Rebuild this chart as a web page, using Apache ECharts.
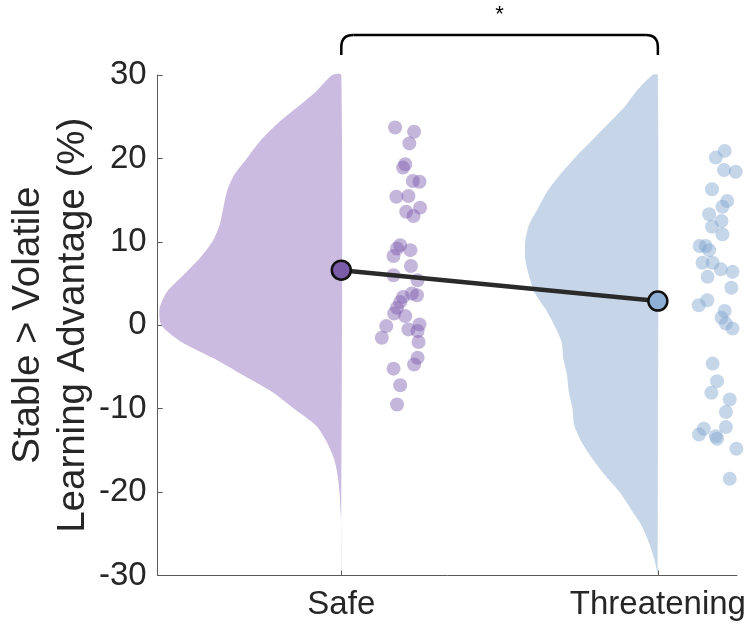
<!DOCTYPE html>
<html><head><meta charset="utf-8">
<script src="https://cdn.jsdelivr.net/npm/echarts@6/dist/echarts.min.js"></script>
<style>html,body{margin:0;padding:0;background:#fff}#c{width:754px;height:626px}</style>
</head><body><div id="c"></div>
<script>
// ---------- data ----------
const categories = ['Safe', 'Threatening'];
const categoryX = [1, 2];
const meanValues = [6.6, 2.9];

const safeX = [1.170,1.230,1.215,1.202,1.195,1.226,1.247,1.174,1.212,1.249,1.205,1.228,1.186,1.176,1.218,1.165,1.220,1.165,1.241,1.223,1.239,1.195,1.186,1.176,1.167,1.202,1.142,1.247,1.212,1.241,1.128,1.244,1.241,1.230,1.165,1.186,1.176];
const safeY = [23.7,23.2,21.8,19.3,18.9,17.3,17.2,15.4,15.5,14.1,13.6,13.1,9.6,9.2,9.0,8.3,7.1,6.0,5.4,3.8,3.6,3.4,2.8,2.1,1.4,1.1,-0.1,0.1,-0.5,-0.7,-1.5,-2.0,-3.9,-4.7,-5.2,-7.2,-9.5];

const threatX = [2.211,2.183,2.209,2.246,2.171,2.219,2.204,2.162,2.201,2.171,2.204,2.132,2.151,2.162,2.141,2.173,2.199,2.236,2.157,2.232,2.156,2.129,2.211,2.201,2.215,2.236,2.173,2.187,2.169,2.227,2.215,2.215,2.145,2.130,2.183,2.187,2.248,2.227];
const threatY = [20.9,20.1,18.6,18.4,16.3,14.9,14.2,13.3,12.5,11.8,10.9,9.5,9.5,9.0,7.5,7.5,6.7,6.4,5.8,4.5,3.0,2.4,1.7,0.9,0.2,-0.4,-4.6,-6.7,-8.1,-8.9,-10.4,-12.2,-12.4,-13.1,-13.3,-13.6,-14.8,-18.4];

const violinY = [30,28,26,24,22,20,18,16,14,12,10,8,6,4,2,0,-2,-4,-6,-8,-10,-12,-14,-16,-18,-20,-22,-24,-26,-28,-30];
const safeDensity = [0.05,0.14,0.25,0.36,0.45,0.52,0.59,0.63,0.65,0.67,0.71,0.78,0.87,0.96,1.00,0.99,0.88,0.70,0.54,0.38,0.26,0.14,0.08,0.04,0.02,0.01,0.005,0,0,0,0];
const threatDensity = [0.03,0.12,0.19,0.28,0.37,0.46,0.54,0.61,0.66,0.71,0.73,0.73,0.71,0.68,0.62,0.57,0.53,0.52,0.50,0.49,0.47,0.46,0.42,0.36,0.29,0.21,0.15,0.09,0.05,0.02,0];

const sigLabel = '*';
const yAxisTitle = 'Stable > Volatile\nLearning Advantage (%)';

// ---------- style ----------
const FONT = "'Liberation Sans', Arial, Helvetica, sans-serif";
const TEXT = '#262626';
const AXIS = '#5a5a5a';
const VIOLIN_HALF = 0.574;
const violinColors = ['#cbbbe0', '#c6d6e8'];
const dotColors = ['#7d5cae', '#7fa3cf'];
const meanColors = ['#7b5ca8', '#8fb0d6'];
const densities = [safeDensity, threatDensity];

const chart = echarts.init(document.getElementById('c'), null, {renderer: 'canvas'});

function violinItem(params, api) {
  const idx = api.value(0);
  const dens = densities[idx];
  const cx = categoryX[idx];
  const pts = [api.coord([cx, violinY[0]])];
  for (let i = 0; i < violinY.length; i++) {
    pts.push(api.coord([cx - dens[i] * VIOLIN_HALF, violinY[i]]));
  }
  pts.push(api.coord([cx, violinY[violinY.length - 1]]));
  return {type: 'polygon', shape: {points: pts, smooth: 0.25}, style: {fill: violinColors[idx]}};
}

chart.setOption({
  animation: false,
  backgroundColor: '#fff',
  grid: {left: 157.7, right: 17, top: 75, bottom: 50.5, containLabel: false, outerBoundsMode: 'none'},
  xAxis: {
    type: 'value', min: 0.42, max: 2.25,
    axisLine: {show: true, onZero: false, lineStyle: {color: AXIS, width: 1}},
    axisTick: {show: true, inside: true, length: 5, customValues: categoryX, lineStyle: {color: AXIS}},
    axisLabel: {customValues: categoryX, formatter: v => categories[categoryX.indexOf(v)] || '',
      fontSize: 33, color: TEXT, fontFamily: FONT, margin: 13},
    splitLine: {show: false}
  },
  yAxis: {
    type: 'value', min: -30, max: 30, interval: 10,
    axisLine: {show: true, onZero: false, lineStyle: {color: AXIS, width: 1}},
    axisTick: {show: true, inside: true, length: 5, lineStyle: {color: AXIS}},
    axisLabel: {fontSize: 33, color: TEXT, fontFamily: FONT, margin: 11},
    splitLine: {show: false},
    name: yAxisTitle, nameLocation: 'middle', nameRotate: 90, nameGap: 62, nameMoveOverlap: false,
    nameTextStyle: {fontSize: 38.5, color: TEXT, fontFamily: FONT, lineHeight: 45}
  },
  series: [
    {type: 'custom', renderItem: violinItem, data: [[0]], encode: {x: -1, y: -1}, z: 1, silent: true},
    {type: 'custom', renderItem: violinItem, data: [[1]], encode: {x: -1, y: -1}, z: 1, silent: true},
    {type: 'scatter', data: safeX.map((x, i) => [x, safeY[i]]), symbolSize: 14,
      itemStyle: {color: dotColors[0], opacity: 0.45}, z: 2},
    {type: 'scatter', data: threatX.map((x, i) => [x, threatY[i]]), symbolSize: 14,
      itemStyle: {color: dotColors[1], opacity: 0.45}, z: 2},
    {type: 'line', data: categoryX.map((x, i) => [x, meanValues[i]]), symbol: 'none',
      lineStyle: {color: '#2a2a2a', width: 4.5}, z: 3},
    {type: 'scatter', data: categoryX.map((x, i) => ({value: [x, meanValues[i]], itemStyle: {color: meanColors[i]}})),
      symbolSize: 19, itemStyle: {borderColor: '#111', borderWidth: 2.5, opacity: 1}, z: 4}
  ]
});

// significance bracket between the two categories
const x1 = chart.convertToPixel({xAxisIndex: 0}, categoryX[0]);
const x2 = chart.convertToPixel({xAxisIndex: 0}, categoryX[1]);
const yTop = 35, yBot = 55, r = 12;
const bStyle = {stroke: '#000', lineWidth: 2.5, fill: null};
chart.setOption({
  graphic: [
    {type: 'line', shape: {x1: x1, y1: yBot, x2: x1, y2: yTop + r}, style: bStyle},
    {type: 'bezierCurve', shape: {x1: x1, y1: yTop + r, cpx1: x1, cpy1: yTop, x2: x1 + r, y2: yTop}, style: bStyle},
    {type: 'line', shape: {x1: x1 + r, y1: yTop, x2: x2 - r, y2: yTop}, style: bStyle},
    {type: 'bezierCurve', shape: {x1: x2 - r, y1: yTop, cpx1: x2, cpy1: yTop, x2: x2, y2: yTop + r}, style: bStyle},
    {type: 'line', shape: {x1: x2, y1: yTop + r, x2: x2, y2: yBot}, style: bStyle},
    {type: 'text', x: (x1 + x2) / 2, y: 15, style: {text: sigLabel, fontSize: 22, fontFamily: FONT, fill: '#000', align: 'center', verticalAlign: 'middle'}}
  ]
});
</script></body></html>
